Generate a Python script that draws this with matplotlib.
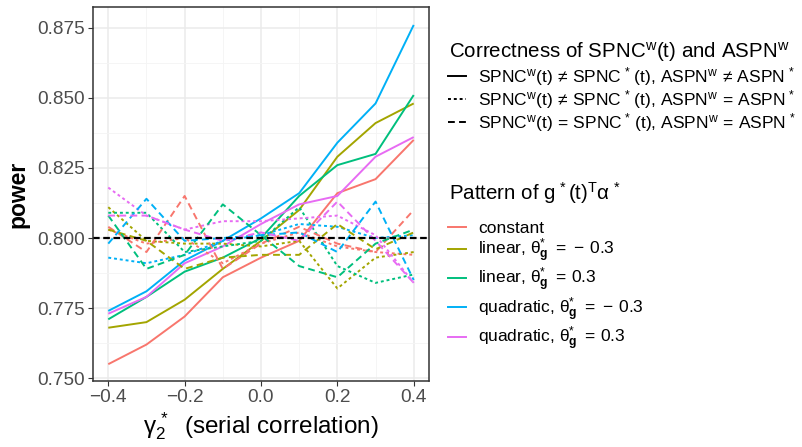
import matplotlib
matplotlib.use("Agg")
import matplotlib.pyplot as plt
from matplotlib.lines import Line2D

plt.rcParams['font.family'] = ['Liberation Sans', 'DejaVu Sans']
plt.rcParams['mathtext.fontset'] = 'custom'
plt.rcParams['mathtext.rm'] = 'Liberation Sans'
plt.rcParams['mathtext.it'] = 'Liberation Sans:italic'
plt.rcParams['mathtext.bf'] = 'Liberation Sans:bold'

# ---------------- data ----------------
gamma = [-0.4, -0.3, -0.2, -0.1, 0.0, 0.1, 0.2, 0.3, 0.4]

patterns = ["constant", "linear_neg", "linear_pos", "quad_neg", "quad_pos"]
pattern_labels = [
    "constant",
    r"linear, $\mathrm{\theta}_{\mathbf{g}}^{*}\ =\,-\,$0.3",
    r"linear, $\mathrm{\theta}_{\mathbf{g}}^{*}\ =\,$0.3",
    r"quadratic, $\mathrm{\theta}_{\mathbf{g}}^{*}\ =\,-\,$0.3",
    r"quadratic, $\mathrm{\theta}_{\mathbf{g}}^{*}\ =\,$0.3",
]
pattern_colors = ["#F8766D", "#A3A500", "#00BF7D", "#00B0F6", "#E76BF3"]
pattern_title = r"Pattern of g$^{\,*}$(t)$^{\mathrm{T}}\mathrm{\alpha}^{\,*}$"

correctness_labels = [
    r"SPNC$^{\mathrm{w}}$(t)$\,\neq\,$SPNC$^{\,*}$$\,$(t), ASPN$^{\mathrm{w}}$$\,\neq\,$ASPN$^{\,*}$",
    r"SPNC$^{\mathrm{w}}$(t)$\,\neq\,$SPNC$^{\,*}$$\,$(t), ASPN$^{\mathrm{w}}$$\,=\,$ASPN$^{\,*}$",
    r"SPNC$^{\mathrm{w}}$(t)$\,=\,$SPNC$^{\,*}$$\,$(t), ASPN$^{\mathrm{w}}$$\,=\,$ASPN$^{\,*}$",
]
correctness_title = r"Correctness of SPNC$^{\mathrm{w}}$(t) and ASPN$^{\mathrm{w}}$"

# both wrong (solid)
power_solid = {
    "constant":   [0.755, 0.762, 0.772, 0.786, 0.793, 0.799, 0.816, 0.821, 0.835],
    "linear_neg": [0.768, 0.770, 0.778, 0.789, 0.799, 0.810, 0.829, 0.841, 0.848],
    "linear_pos": [0.771, 0.779, 0.788, 0.793, 0.800, 0.815, 0.826, 0.830, 0.851],
    "quad_neg":   [0.774, 0.781, 0.792, 0.799, 0.807, 0.816, 0.834, 0.848, 0.876],
    "quad_pos":   [0.773, 0.779, 0.791, 0.797, 0.805, 0.812, 0.815, 0.829, 0.836],
}
# SPNC wrong, ASPN right (dotted)
power_dotted = {
    "constant":   [0.803, 0.798, 0.800, 0.791, 0.798, 0.802, 0.797, 0.795, 0.794],
    "linear_neg": [0.811, 0.799, 0.798, 0.798, 0.797, 0.799, 0.782, 0.793, 0.795],
    "linear_pos": [0.809, 0.809, 0.795, 0.797, 0.799, 0.811, 0.790, 0.784, 0.787],
    "quad_neg":   [0.793, 0.791, 0.794, 0.799, 0.801, 0.805, 0.804, 0.800, 0.801],
    "quad_pos":   [0.818, 0.808, 0.803, 0.806, 0.806, 0.807, 0.808, 0.801, 0.784],
}
# both right (dashed)
power_dashed = {
    "constant":   [0.804, 0.795, 0.815, 0.789, 0.798, 0.804, 0.798, 0.795, 0.810],
    "linear_neg": [0.803, 0.799, 0.789, 0.793, 0.794, 0.794, 0.805, 0.796, 0.802],
    "linear_pos": [0.808, 0.789, 0.794, 0.812, 0.801, 0.790, 0.786, 0.798, 0.803],
    "quad_neg":   [0.798, 0.814, 0.799, 0.800, 0.801, 0.802, 0.795, 0.813, 0.785],
    "quad_pos":   [0.808, 0.808, 0.803, 0.799, 0.802, 0.799, 0.813, 0.799, 0.784],
}

target_power = 0.8
xticks = [-0.4, -0.2, 0.0, 0.2, 0.4]
xticklabels = ["\u22120.4", "\u22120.2", "0.0", "0.2", "0.4"]
yticks = [0.750, 0.775, 0.800, 0.825, 0.850, 0.875]
yticklabels = ["0.750", "0.775", "0.800", "0.825", "0.850", "0.875"]

# ---------------- plot ----------------
LW = 1.4
styles = [
    ("solid", power_solid, "-"),
    ("dotted", power_dotted, (0, (1.5, 1.5))),
    ("dashed", power_dashed, (0, (3.5, 2.2))),
]

W, H = 802, 447
fig = plt.figure(figsize=(W / 100, H / 100), dpi=100)
ax = fig.add_axes([93 / W, 1 - 381 / H, (429 - 93) / W, (381 - 7) / H])

for name, table, ls in styles:
    for p, c in zip(patterns, pattern_colors):
        ax.plot(gamma, table[p], color=c, linestyle=ls, linewidth=LW,
                solid_capstyle="butt", dash_capstyle="butt")

ax.axhline(target_power, color="black", linestyle=(0, (3, 1.6)), linewidth=1.6)

ax.set_xlim(-0.44, 0.44)
ax.set_ylim(0.749, 0.8824)
ax.set_xticks(xticks)
ax.set_xticklabels(xticklabels)
ax.set_yticks(yticks)
ax.set_yticklabels(yticklabels)
ax.set_xticks([-0.3, -0.1, 0.1, 0.3], minor=True)
ax.set_yticks([0.7625, 0.7875, 0.8125, 0.8375, 0.8625], minor=True)
ax.grid(which="major", color="#EBEBEB", linewidth=1.1)
ax.grid(which="minor", color="#F4F4F4", linewidth=0.6)
ax.set_axisbelow(True)
ax.tick_params(which="minor", length=0)
ax.tick_params(which="major", length=3.5, width=0.8, color="#333333",
               labelsize=13.7, labelcolor="#4D4D4D", pad=2)
for s in ax.spines.values():
    s.set_color("#333333")
    s.set_linewidth(1.1)

ax.set_xlabel(r"$\mathrm{\gamma}_2^{\,*}$  (serial correlation)", fontsize=17.5, labelpad=3)
ax.set_ylabel("power", fontsize=16.5, fontweight="bold", labelpad=6)

# legends (titles drawn separately for exact placement)
fig.text(449 / W, 1 - 52 / H, correctness_title, fontsize=14.8, va="center", ha="left")
h1 = [Line2D([], [], color="black", linestyle=ls, linewidth=LW) for _, _, ls in styles]
leg1 = fig.legend(h1, correctness_labels, loc="upper left",
                  bbox_to_anchor=(448 / W, 1 - 65 / H), frameon=False,
                  fontsize=12.5, handlelength=1.05,
                  handletextpad=0.7, labelspacing=0.0, borderpad=0, borderaxespad=0)

fig.text(449 / W, 1 - 193 / H, pattern_title, fontsize=14.8, va="center", ha="left")
h2 = [Line2D([], [], color=c, linewidth=LW) for c in pattern_colors]
leg2 = fig.legend(h2, pattern_labels, loc="upper left",
                  bbox_to_anchor=(448 / W, 1 - 221 / H), frameon=False,
                  fontsize=12.5, handlelength=1.05,
                  handletextpad=0.7, labelspacing=0.05, borderpad=0, borderaxespad=0)

fig.savefig("out.png", dpi=100)
